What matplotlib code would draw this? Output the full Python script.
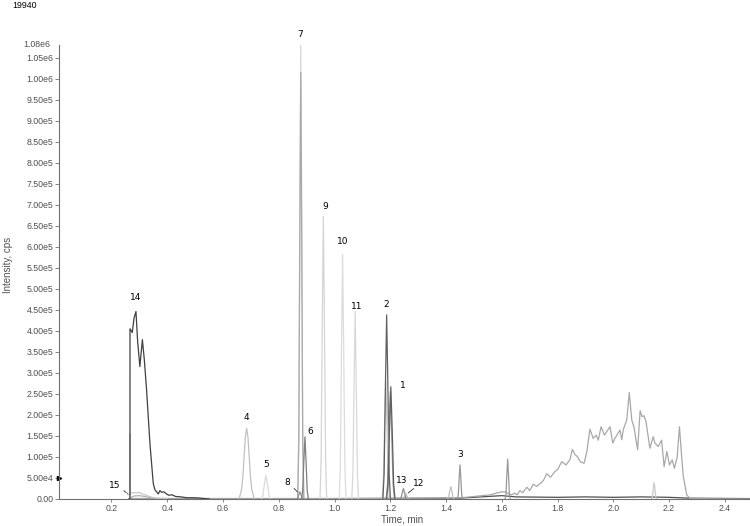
import matplotlib
matplotlib.use('Agg')
import matplotlib.pyplot as plt
import numpy as np

# intensities are in units of 1e5 cps
t14 = [0.262, 0.2665, 0.2666, 0.2747, 0.281, 0.288, 0.294, 0.302, 0.311, 0.318, 0.326, 0.338, 0.350, 0.356, 0.362, 0.368, 0.374, 0.380, 0.388, 0.398, 0.405, 0.417, 0.43, 0.45, 0.47, 0.50, 0.52, 0.55]
i14 = [0, 0, 4.05, 3.96, 4.30, 4.46, 3.75, 3.15, 3.79, 3.31, 2.60, 1.33, 0.37, 0.22, 0.17, 0.12, 0.20, 0.16, 0.17, 0.12, 0.09, 0.10, 0.06, 0.05, 0.03, 0.03, 0.02, 0]
t15 = [0.2664, 0.2665, 0.2668, 0.27, 0.28, 0.30, 0.32, 0.34, 0.36, 0.40]
i15 = [0, 1.55, 0.12, 0.14, 0.15, 0.15, 0.10, 0.05, 0.02, 0.01]
t15b = [0.2665, 0.28, 0.30, 0.32, 0.34, 0.37]
i15b = [0.02, 0.07, 0.08, 0.06, 0.03, 0.01]
t4 = [0.658, 0.667, 0.6715, 0.676, 0.6805, 0.685, 0.6895, 0.694, 0.6985, 0.703, 0.712]
i4 = [0, 0.24, 0.54, 1.02, 1.48, 1.68, 1.48, 1.02, 0.54, 0.24, 0]
t5 = [0.7375, 0.743, 0.7485, 0.754, 0.7595, 0.765, 0.7705]
i5 = [0, 0.08, 0.35, 0.57, 0.35, 0.08, 0]
t7 = [0.868, 0.872, 0.8755, 0.879, 0.8825, 0.886, 0.890]
i7 = [0, 1.5, 6.6, 10.8, 6.6, 1.5, 0]
i7b = [0, 1.4, 6.2, 10.15, 6.2, 1.4, 0]
t8 = [0.864, 0.868, 0.872, 0.876, 0.880, 0.884, 0.888]
i8 = [0, 0.02, 0.10, 0.17, 0.10, 0.02, 0]
t6 = [0.882, 0.886, 0.890, 0.894, 0.898, 0.902, 0.906]
i6 = [0, 0.21, 0.90, 1.48, 0.90, 0.21, 0]
t9 = [0.948, 0.952, 0.956, 0.960, 0.964, 0.968, 0.972]
i9 = [0, 0.94, 4.10, 6.72, 4.10, 0.94, 0]
t10 = [1.017, 1.021, 1.025, 1.029, 1.033, 1.037, 1.041]
i10 = [0, 0.81, 3.55, 5.82, 3.55, 0.81, 0]
t11 = [1.062, 1.066, 1.070, 1.074, 1.078, 1.082, 1.086]
i11 = [0, 0.62, 2.72, 4.46, 2.72, 0.62, 0]
t2 = [1.1735, 1.178, 1.1825, 1.187, 1.1915, 1.196, 1.2005]
i2 = [0, 0.61, 2.67, 4.38, 2.67, 0.61, 0]
t2b = [1.1705, 1.175, 1.1795, 1.184, 1.1885, 1.193, 1.1975]
i2b = [0, 0.39, 1.71, 2.80, 1.71, 0.39, 0]
t1 = [1.187, 1.192, 1.197, 1.202, 1.207, 1.212, 1.217]
i1 = [0, 0.37, 1.63, 2.67, 1.63, 0.37, 0]
t1b = [1.185, 1.190, 1.195, 1.200, 1.205, 1.210, 1.215]
i1b = [0, 0.35, 1.55, 2.55, 1.55, 0.35, 0]
t13 = [1.235, 1.239, 1.243, 1.247, 1.251, 1.255, 1.259]
i13 = [0, 0.035, 0.15, 0.25, 0.15, 0.035, 0]
t12 = [1.2445, 1.248, 1.2515, 1.255, 1.2585, 1.262, 1.2655]
i12 = [0, 0.02, 0.08, 0.13, 0.08, 0.02, 0]
t3 = [1.441, 1.444, 1.447, 1.450, 1.453, 1.456, 1.459]
i3 = [0, 0.11, 0.49, 0.81, 0.49, 0.11, 0]
t3b = [1.405, 1.409, 1.413, 1.417, 1.421, 1.425, 1.429]
i3b = [0, 0.04, 0.18, 0.29, 0.18, 0.04, 0]
tP = [1.612, 1.615, 1.618, 1.621, 1.624, 1.627, 1.630]
iP = [0, 0.13, 0.58, 0.95, 0.58, 0.13, 0]
tQ = [2.137, 2.140, 2.143, 2.146, 2.149, 2.152, 2.155]
iQ = [0, 0.05, 0.24, 0.39, 0.24, 0.05, 0]
tH = [0.27, 0.5, 1.0, 1.30, 1.45, 1.47, 1.50, 1.53, 1.56, 1.58, 1.60, 1.612, 1.625, 1.635, 1.645, 1.655, 1.665, 1.675, 1.69, 1.70,
      1.713, 1.725, 1.74, 1.75, 1.761, 1.775, 1.79, 1.80, 1.815, 1.83, 1.844, 1.853, 1.863, 1.871, 1.881, 1.895, 1.905, 1.916, 1.928, 1.938,
      1.946, 1.956, 1.968, 1.976, 1.988, 1.998, 2.006, 2.024, 2.030, 2.036, 2.048, 2.057, 2.066, 2.074, 2.087, 2.096, 2.103, 2.110, 2.117, 2.131,
      2.143, 2.149, 2.161, 2.173, 2.182, 2.192, 2.201, 2.211, 2.219, 2.229, 2.237, 2.245, 2.251, 2.263, 2.275, 2.49]
iH = [0.01, 0.01, 0.01, 0.02, 0.03, 0.04, 0.06, 0.08, 0.10, 0.14, 0.17, 0.17, 0.12, 0.10, 0.14, 0.10, 0.20, 0.15, 0.28, 0.20,
      0.35, 0.30, 0.38, 0.45, 0.60, 0.52, 0.65, 0.70, 0.89, 0.81, 0.93, 1.18, 1.05, 1.01, 0.89, 0.85, 1.13, 1.66, 1.44, 1.52,
      1.40, 1.72, 1.52, 1.60, 1.72, 1.33, 1.45, 1.64, 1.41, 1.66, 1.88, 2.53, 1.88, 1.71, 1.17, 2.10, 1.96, 1.98, 1.84, 1.21,
      1.48, 1.33, 1.25, 1.40, 0.77, 1.13, 0.81, 0.93, 0.73, 1.00, 1.72, 1.00, 0.53, 0.10, 0.01, 0.0]
tB = [0.2665, 0.5, 1.0, 1.45, 1.55, 1.60, 1.65, 1.8, 1.9, 2.0, 2.1, 2.2, 2.27, 2.49]
iB = [0.01, 0.01, 0.01, 0.02, 0.06, 0.08, 0.05, 0.04, 0.05, 0.04, 0.05, 0.04, 0.02, 0.01]

traces = [
    (tB, iB, '#505050'), (tH, iH, '#a8a8a8'), (t15b, i15b, '#b0b0b0'), (t15, i15, '#c8c8c8'),
    (t4, i4, '#c0c0c0'), (t5, i5, '#dadada'), (t7, i7, '#d8d8d8'), (t7, i7b, '#a8a8a8'),
    (t8, i8, '#909090'), (t6, i6, '#808080'), (t9, i9, '#d4d4d4'), (t10, i10, '#dcdcdc'),
    (t11, i11, '#d8d8d8'), (t2b, i2b, '#c8c8c8'), (t2, i2, '#606060'), (t1b, i1b, '#a0a0a0'),
    (t1, i1, '#606060'), (t13, i13, '#909090'), (t12, i12, '#b0b0b0'), (t3b, i3b, '#c0c0c0'),
    (t3, i3, '#989898'), (tP, iP, '#999999'), (tQ, iQ, '#c8c8c8'), (t14, i14, '#404040'),
]

peak_labels = ['7', '9', '10', '11', '2', '1', '14', '4', '5', '6', '3', '13', '12', '15', '8']
label_t = [0.876, 0.966, 1.030, 1.081, 1.185, 1.246, 0.288, 0.683, 0.754, 0.912, 1.450, 1.242, 1.300, 0.213, 0.829]
label_i = [11.05, 6.95, 6.12, 4.57, 4.62, 2.71, 4.79, 1.93, 0.83, 1.60, 1.05, 0.45, 0.36, 0.33, 0.40]

yticks = [0.5 * k for k in range(22)]
ytick_labels = ['0.00', '5.00e4', '1.00e5', '1.50e5', '2.00e5', '2.50e5', '3.00e5', '3.50e5', '4.00e5', '4.50e5', '5.00e5',
                '5.50e5', '6.00e5', '6.50e5', '7.00e5', '7.50e5', '8.00e5', '8.50e5', '9.00e5', '9.50e5', '1.00e6', '1.05e6']
xticks = [0.2, 0.4, 0.6, 0.8, 1.0, 1.2, 1.4, 1.6, 1.8, 2.0, 2.2, 2.4]

fig = plt.figure(figsize=(7.5, 5.26), dpi=100)
ax = fig.add_axes([59/750, 27/526, 691/750, 454/526])

for t, i, c in traces:
    ax.plot(t, np.array(i) * 1e5, color=c, lw=0.9)

ax.set_xlim(0.012, 2.49)
ax.set_ylim(0, 10.8e5)

for s in ['top', 'right']:
    ax.spines[s].set_visible(False)
for s in ['left', 'bottom']:
    ax.spines[s].set_color('#707070')
    ax.spines[s].set_linewidth(0.8)

ax.set_yticks([v * 1e5 for v in yticks])
ax.set_yticklabels(ytick_labels, fontsize=6.3, color='#505050', family='Liberation Sans')
ax.set_xticks(xticks)
ax.set_xticklabels([str(x) for x in xticks], fontsize=6.3, color='#505050', family='Liberation Sans')
ax.tick_params(axis='y', length=3, width=0.6, color='#707070', pad=1)
ax.tick_params(axis='x', length=2, width=0.6, color='#707070', pad=1.5)

ax.text(-0.012, 1.0, '1.08e6', transform=ax.transAxes, ha='right', va='center',
        fontsize=6.3, color='#505050', family='Liberation Sans')
ax.plot([0.012], [0.5e5], marker='>', color='black', ms=3, clip_on=False)

for lab, t, i in zip(peak_labels, label_t, label_i):
    ax.text(t, i * 1e5, lab, ha='center', va='center', fontsize=6.5, color='black', clip_on=False)

ax.annotate('', xy=(0.268, 0.07e5), xytext=(0.237, 0.24e5),
            arrowprops=dict(arrowstyle='-', lw=0.6, ls='--', color='#303030'))
ax.annotate('', xy=(0.874, 0.12e5), xytext=(0.848, 0.30e5),
            arrowprops=dict(arrowstyle='-', lw=0.6, color='#303030'))
ax.annotate('', xy=(1.256, 0.10e5), xytext=(1.292, 0.29e5),
            arrowprops=dict(arrowstyle='-', lw=0.6, color='#303030'))

fig.text(25/750, 1 - 5/526, '19940', ha='center', va='center', fontsize=6.3, color='black', family='Liberation Sans')
fig.text(8/750, 1 - 265/526, 'Intensity, cps', rotation=90, ha='center', va='center',
         fontsize=7, color='#505050', family='Liberation Sans')
fig.text(381/750, 1 - 519/526, 'Time, min', ha='left', va='center',
         fontsize=7, color='#505050', family='Liberation Sans')

plt.savefig('out.png', dpi=100)
plt.close()
